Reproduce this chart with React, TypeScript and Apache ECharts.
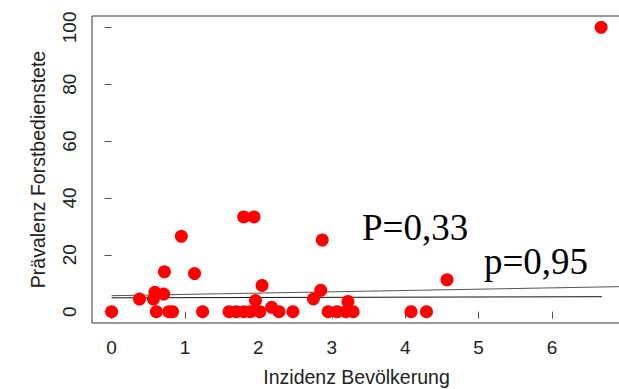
import React, { useEffect, useRef } from "react";
import * as echarts from "echarts";

// Inzidenz Bevölkerung (x) and Prävalenz Forstbedienstete (y)
const incidence = [
  0, 0.38, 0.57, 0.59, 0.61, 0.71, 0.72, 0.78, 0.83, 0.95, 1.13, 1.24,
  1.6, 1.7, 1.8, 1.8, 1.89, 1.94, 1.96, 2.02, 2.05, 2.18, 2.28, 2.47,
  2.75, 2.85, 2.87, 2.95, 3.07, 3.19, 3.22, 3.29, 4.08, 4.29, 4.57, 6.67,
];
const prevalence = [
  0, 4.4, 4.4, 6.8, 0, 6.2, 14.0, 0, 0, 26.5, 13.4, 0,
  0, 0, 33.3, 0, 0, 33.3, 3.9, 0, 9.2, 1.5, 0, 0,
  4.5, 7.5, 25.2, 0, 0, 0, 3.6, 0, 0, 0, 11.2, 100,
];

const xTicks = [0, 1, 2, 3, 4, 5, 6];
const yTicks = [0, 20, 40, 60, 80, 100];

// fitted lines
const fitLabels = ["P=0,33", "p=0,95"];
const fitIntercepts = [5.6, 4.85];
const fitSlopes = [0.46, 0.06];
const fitXEnds = [6.94, 6.68];
const fitColors = ["#555555", "#111111"];

const points = incidence.map((x, i) => [x, prevalence[i]]);

export default function App() {
  const ref = useRef<HTMLDivElement>(null);
  useEffect(() => {
    const chart = echarts.init(ref.current!, null, { renderer: "svg" });
    const sans = "'Liberation Sans', Arial, sans-serif";
    const serif = "'Liberation Serif', 'Times New Roman', serif";
    const lineSeries = fitIntercepts.map((a, i) => ({
      type: "line",
      name: fitLabels[i],
      data: [
        [0, a],
        [fitXEnds[i], a + fitSlopes[i] * fitXEnds[i]],
      ],
      symbol: "none",
      silent: true,
      lineStyle: { color: fitColors[i], width: 1 },
      z: 1,
    }));
    chart.setOption({
      animation: false,
      backgroundColor: "#ffffff",
      grid: {
        left: 92,
        top: 16,
        right: -2,
        bottom: 66,
        show: true,
        borderColor: "#333333",
        borderWidth: 1,
        containLabel: false,
        outerBoundsMode: "none",
      },
      xAxis: {
        type: "value",
        min: -0.267,
        max: 6.94,
        axisLine: { show: false },
        axisTick: {
          show: true,
          inside: false,
          length: 7,
          customValues: xTicks,
          lineStyle: { color: "#555555" },
        },
        axisLabel: {
          customValues: xTicks,
          fontSize: 19,
          color: "#222222",
          fontFamily: sans,
          margin: 15,
        },
        splitLine: { show: false },
        name: "Inzidenz Bevölkerung",
        nameLocation: "middle",
        nameGap: 44,
        nameTextStyle: { fontSize: 19.5, color: "#222222", fontFamily: sans },
      },
      yAxis: {
        type: "value",
        min: -4,
        max: 104,
        axisLine: { show: false },
        axisTick: {
          show: true,
          inside: false,
          length: 7,
          customValues: yTicks,
          lineStyle: { color: "#555555" },
        },
        axisLabel: {
          customValues: yTicks,
          rotate: 90,
          fontSize: 19,
          color: "#222222",
          fontFamily: sans,
          margin: 13,
        },
        splitLine: { show: false },
        name: "Prävalenz Forstbedienstete",
        nameLocation: "middle",
        nameGap: 44,
        nameTextStyle: { fontSize: 19.5, color: "#222222", fontFamily: sans },
      },
      series: [
        ...lineSeries,
        {
          type: "scatter",
          data: points,
          symbol: "circle",
          symbolSize: 13,
          itemStyle: { color: "#ff0000", opacity: 1 },
          z: 2,
        },
      ],
      graphic: [
        {
          type: "text",
          left: 362,
          top: 209,
          style: { text: fitLabels[0], font: `37px ${serif}`, fill: "#000000" },
        },
        {
          type: "text",
          left: 484,
          top: 243,
          style: { text: fitLabels[1], font: `37px ${serif}`, fill: "#000000" },
        },
      ],
    });
    return () => chart.dispose();
  }, []);
  return (
    <div
      ref={ref}
      style={{ position: "absolute", left: 0, top: 0, width: 619, height: 389 }}
    />
  );
}
